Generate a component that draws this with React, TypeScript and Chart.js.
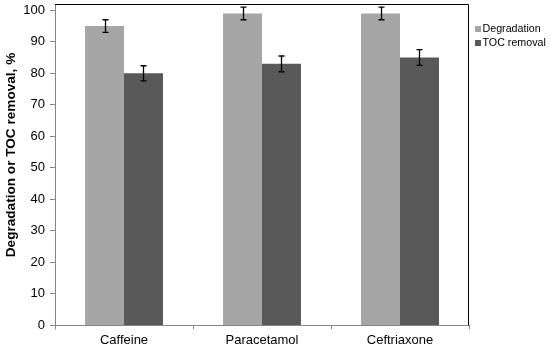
import React, { useEffect, useRef } from "react";
import { Chart, registerables } from "chart.js";

Chart.register(...registerables);

const categories = ["Caffeine", "Paracetamol", "Ceftriaxone"];
const degradation = [95, 99, 99];
const degradationErr = [2, 2, 2];
const tocRemoval = [80, 83, 85];
const tocErr = [2.4, 2.5, 2.5];
const seriesNames = ["Degradation", "TOC removal"];
const yTickValues = [0, 10, 20, 30, 40, 50, 60, 70, 80, 90, 100];
const yTitle = "Degradation or TOC removal, %";
const colors = ["#A6A6A6", "#595959"];
const errors = [degradationErr, tocErr];

const FONT = "'Liberation Sans', Arial, sans-serif";

const errorBarPlugin = {
  id: "errorBars",
  afterDatasetsDraw(chart: any) {
    const ctx = chart.ctx;
    const y = chart.scales.y;
    ctx.save();
    ctx.strokeStyle = "#000";
    ctx.lineWidth = 1.3;
    chart.data.datasets.forEach((ds: any, i: number) => {
      const meta = chart.getDatasetMeta(i);
      meta.data.forEach((bar: any, j: number) => {
        const v = ds.data[j];
        const e = errors[i][j];
        const x = Math.round(bar.x) + 0.5;
        const yt = y.getPixelForValue(v + e);
        const yb = y.getPixelForValue(v - e);
        ctx.beginPath();
        ctx.moveTo(x, yt);
        ctx.lineTo(x, yb);
        ctx.moveTo(x - 3, yt);
        ctx.lineTo(x + 3, yt);
        ctx.moveTo(x - 3, yb);
        ctx.lineTo(x + 3, yb);
        ctx.stroke();
      });
    });
    ctx.restore();
  },
};

const framePlugin = {
  id: "frame",
  afterDraw(chart: any) {
    const { ctx, chartArea } = chart;
    const { left, right, top, bottom } = chartArea;
    ctx.save();
    ctx.strokeStyle = "#000";
    ctx.lineWidth = 1;
    ctx.beginPath();
    ctx.moveTo(left, top + 0.5);
    ctx.lineTo(right - 0.5, top + 0.5);
    ctx.lineTo(right - 0.5, bottom);
    ctx.stroke();
    // legend
    ctx.font = `10.7px ${FONT}`;
    ctx.textBaseline = "middle";
    ctx.textAlign = "left";
    const lx = right + 6;
    const ly = [29, 43];
    chart.data.datasets.forEach((ds: any, i: number) => {
      ctx.fillStyle = ds.backgroundColor;
      ctx.fillRect(lx, ly[i] - 3, 6, 6);
      ctx.fillStyle = "#000";
      ctx.fillText(ds.label, lx + 7.5, ly[i] + 0.5);
    });
    // y title
    ctx.save();
    ctx.translate(11.5, 155);
    ctx.rotate(-Math.PI / 2);
    ctx.textAlign = "center";
    ctx.font = `bold 13.6px ${FONT}`;
    ctx.fillStyle = "#000";
    ctx.fillText(yTitle, 0, 0);
    ctx.restore();
    ctx.restore();
  },
};

export default function App() {
  const ref = useRef<HTMLCanvasElement>(null);
  useEffect(() => {
    document.body.style.margin = "0";
    const chart = new Chart(ref.current!, {
      type: "bar",
      data: {
        labels: categories,
        datasets: [
          { label: seriesNames[0], data: degradation, backgroundColor: colors[0] },
          { label: seriesNames[1], data: tocRemoval, backgroundColor: colors[1] },
        ],
      },
      options: {
        animation: false,
        responsive: false,
        maintainAspectRatio: false,
        layout: { padding: { top: 4, right: 81, left: 0, bottom: 0 } },
        datasets: {
          bar: { barPercentage: 1, categoryPercentage: 0.565 },
        },
        plugins: {
          legend: { display: false },
          tooltip: { enabled: false },
        },
        scales: {
          x: {
            grid: {
              drawOnChartArea: false,
              color: "#868686",
              tickLength: 4,
              offset: true,
            },
            border: { color: "#868686", width: 1 },
            ticks: { color: "#000", font: { family: FONT, size: 13 }, padding: 3 },
          },
          y: {
            min: 0,
            max: 102,
            afterBuildTicks: (axis: any) => {
              axis.ticks = yTickValues.map((v) => ({ value: v }));
            },
            afterFit: (axis: any) => {
              axis.width = 55;
              axis.paddingTop = 0;
              axis.paddingBottom = 0;
            },
            ticks: { color: "#000", font: { family: FONT, size: 13 }, padding: 5 },
            grid: { drawOnChartArea: false, color: "#868686", tickLength: 5 },
            border: { color: "#868686", width: 1 },
          },
        },
      },
      plugins: [errorBarPlugin, framePlugin],
    });
    return () => chart.destroy();
  }, []);
  return <canvas ref={ref} width={550} height={351} style={{ display: "block" }} />;
}
